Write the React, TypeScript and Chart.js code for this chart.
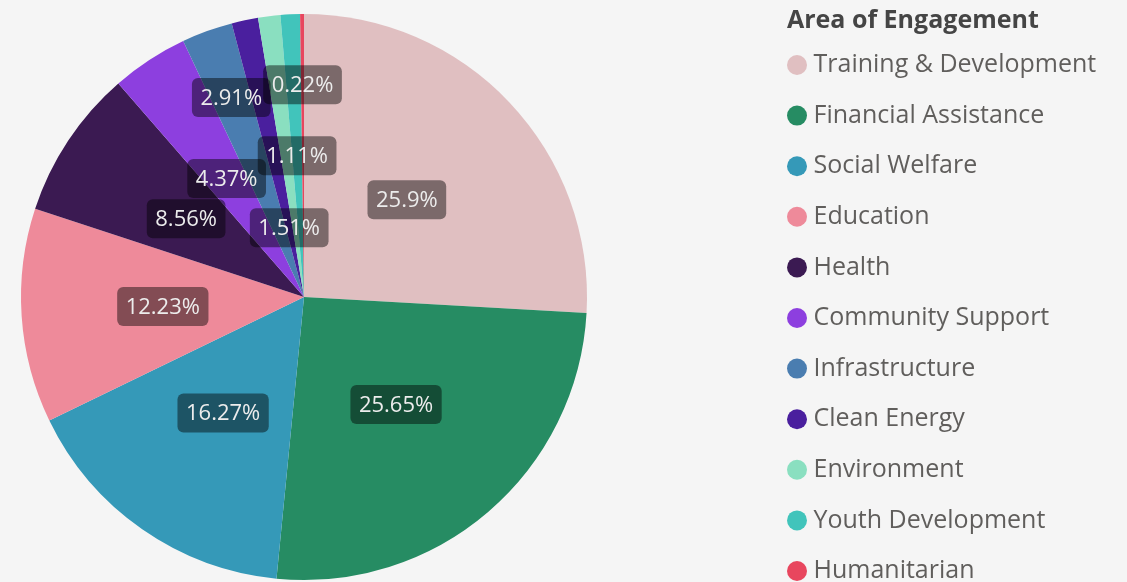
import React, { useEffect, useRef } from "react";
import { Chart, registerables } from "chart.js";

Chart.register(...registerables);

const categories = [
  "Training & Development",
  "Financial Assistance",
  "Social Welfare",
  "Education",
  "Health",
  "Community Support",
  "Infrastructure",
  "Clean Energy",
  "Environment",
  "Youth Development",
  "Humanitarian",
];
const shares = [25.9, 25.65, 16.27, 12.23, 8.56, 4.37, 2.91, 1.51, 1.27, 1.11, 0.22];
const sliceColors = [
  "#E0BFC1",
  "#268C63",
  "#3599B8",
  "#EE8A9A",
  "#3B1A52",
  "#8D3FDF",
  "#4A7DB0",
  "#4A1F9E",
  "#8ADFC0",
  "#41C4BB",
  "#E8465E",
];
const legendTitle = "Area of Engagement";

const FONT = '"Open Sans", "Noto Sans", sans-serif';
const LEGEND_SIZE = 25;
const TITLE_SIZE = 25;
const LABEL_SIZE = 22;

// layout geometry (pixels)
const PIE_CX = 304;
const PIE_CY = 297;
const PIE_R = 283;
const LEGEND_LEFT = 787;

// radius factor (fraction of outer radius) for each slice's value label; null = hidden
const ringFactor: (number | null)[] = [0.5, 0.5, 0.5, 0.5, 0.5, 0.5, 0.75, 0.25, null, 0.5, 0.75];

const placementPlugin = {
  id: "placement",
  afterLayout(chart: any) {
    const left = 2 * PIE_CX - LEGEND_LEFT;
    const top = 0;
    const bottom = 2 * PIE_CY;
    chart.chartArea = {
      left,
      top,
      right: LEGEND_LEFT,
      bottom,
      width: LEGEND_LEFT - left,
      height: bottom - top,
    };
    const lg = chart.legend;
    if (lg) {
      const w = lg.width;
      lg.left = LEGEND_LEFT;
      lg.right = LEGEND_LEFT + w;
      lg.top = 0;
      lg.bottom = 640;
    }
  },
};

const sliceLabelPlugin = {
  id: "sliceLabels",
  afterDatasetsDraw(chart: any) {
    const ctx = chart.ctx as CanvasRenderingContext2D;
    const meta = chart.getDatasetMeta(0);
    ctx.save();
    ctx.font = `${LABEL_SIZE}px ${FONT}`;
    meta.data.forEach((arc: any, i: number) => {
      const f = ringFactor[i];
      if (f == null) return;
      const { x, y, startAngle, endAngle, outerRadius } = arc.getProps(
        ["x", "y", "startAngle", "endAngle", "outerRadius"],
        true
      );
      const mid = (startAngle + endAngle) / 2;
      const r = outerRadius * f;
      const cx = x + Math.cos(mid) * r;
      const cy = y + Math.sin(mid) * r;
      const text = `${shares[i]}%`;
      const w = ctx.measureText(text).width + 17;
      const h = 39;
      ctx.fillStyle = "rgba(0,0,0,0.45)";
      ctx.beginPath();
      (ctx as any).roundRect(cx - w / 2, cy - h / 2, w, h, 6);
      ctx.fill();
      ctx.fillStyle = "#ececec";
      ctx.textAlign = "center";
      ctx.textBaseline = "middle";
      ctx.fillText(text, cx, cy + 1);
    });
    ctx.restore();
  },
};

export default function App() {
  const canvasRef = useRef<HTMLCanvasElement | null>(null);

  useEffect(() => {
    document.body.style.margin = "0";
    document.body.style.background = "#f5f5f5";
    const canvas = canvasRef.current;
    if (!canvas) return;

    const chart = new Chart(canvas, {
      type: "pie",
      data: {
        labels: categories,
        datasets: [
          {
            data: shares,
            backgroundColor: sliceColors,
            borderWidth: 0,
            radius: PIE_R,
          } as any,
        ],
      },
      plugins: [placementPlugin, sliceLabelPlugin],
      options: {
        responsive: false,
        animation: false,
        plugins: {
          tooltip: { enabled: false },
          legend: {
            position: "right",
            align: "start",
            title: {
              display: true,
              text: legendTitle,
              position: "start",
              color: "#454545",
              font: { family: FONT, size: TITLE_SIZE, weight: "bold", lineHeight: 1.2 },
              padding: { top: 8.5, bottom: 8 },
            } as any,
            labels: {
              usePointStyle: true,
              pointStyle: "circle",
              boxWidth: 8,
              boxHeight: 14.14,
              padding: 6,
              color: "#605E5C",
              font: { family: FONT, size: LEGEND_SIZE, lineHeight: "44.6px" } as any,
              generateLabels: () =>
                categories.map((c, i) => ({
                  text: (i < categories.length - 1 ? [c] : c) as any,
                  fillStyle: sliceColors[i],
                  strokeStyle: sliceColors[i],
                  lineWidth: 0,
                  pointStyle: "circle",
                  hidden: false,
                  index: i,
                  fontColor: "#605E5C",
                })),
            },
          },
        },
      },
    });
    return () => chart.destroy();
  }, []);

  return (
    <div style={{ width: 1127, height: 582, background: "#f5f5f5" }}>
      <canvas ref={canvasRef} width={1127} height={582} />
    </div>
  );
}
